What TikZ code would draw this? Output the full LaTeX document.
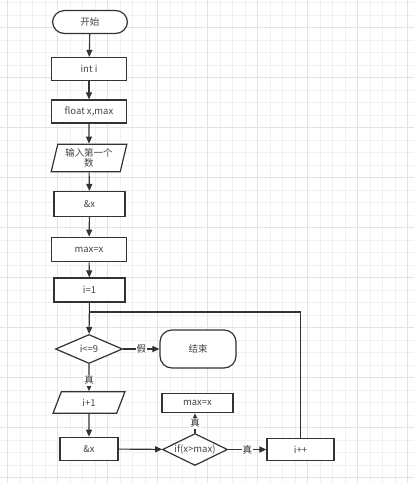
\documentclass[tikz,border=0pt]{standalone}
\usepackage{fontspec}
\setmainfont{Noto Sans CJK SC}
\usetikzlibrary{shapes.geometric,arrows.meta}
\definecolor{inkgray}{HTML}{333333}
\definecolor{txtgray}{HTML}{444444}
\definecolor{gridminor}{HTML}{F1F1F1}
\definecolor{gridmajor}{HTML}{E3E3E3}

\begin{document}
\begin{tikzpicture}[x=1pt,y=-1pt,
  every node/.style={font=\fontsize{9.5}{11}\selectfont,text=txtgray},
  box/.style={draw=inkgray,line width=1.2pt,fill=white,inner sep=0pt,minimum width=75pt,minimum height=23pt},
  term/.style={box,rounded corners=12pt},
  io/.style={box,trapezium,trapezium left angle=75,trapezium right angle=105,trapezium stretches=true,align=center},
  cond/.style={box,diamond,aspect=2,minimum width=67pt,minimum height=29pt},
  lab/.style={fill=white,inner sep=1pt,text=inkgray},
  arr/.style={draw=inkgray,line width=1.1pt,-{Triangle[length=7pt,width=6pt]}},
  wire/.style={draw=inkgray,line width=1.1pt}]
\fill[white] (0,0) rectangle (414,483);
\useasboundingbox (0,0) rectangle (414,483);
\begin{scope}
\clip (0,0) rectangle (414,483);
\foreach \x in {7.5,20,...,412} \draw[gridminor,line width=1pt] (\x,0) -- (\x,483);
\foreach \y in {2.5,15,...,482} \draw[gridminor,line width=1pt] (0,\y) -- (414,\y);
\foreach \x in {7.5,57.5,...,412} \draw[gridmajor,line width=1pt] (\x,0) -- (\x,483);
\foreach \y in {27.5,77.5,...,482} \draw[gridmajor,line width=1pt] (0,\y) -- (414,\y);
\end{scope}

\node[term] (start) at (90,22) {开始};
\node[box] (inti) at (89,69) {int i};
\node[box] (flt) at (89,111.5) {float x,max};
\node[io,minimum width=76pt,minimum height=27.5pt] (inp) at (89,158) {输入第一个\\[-1pt]数};
\node[box,minimum width=71pt,minimum height=25pt] (adr) at (89.5,204) {\&x};
\node[box,minimum height=24.5pt] (mx) at (89,249.5) {max=x};
\node[box,minimum width=71pt,minimum height=24pt] (ione) at (89.5,290) {i=1};
\node[cond] (c1) at (89,349) {i<=9};
\node[term,minimum width=76pt,minimum height=38pt] (stop) at (198,349) {结束};
\node[io,minimum width=72pt,minimum height=21.5pt] (iadd) at (89,402.5) {i+1};
\node[box,minimum width=58pt,minimum height=23.5pt] (adr2) at (89,449) {\&x};
\node[cond,minimum width=65pt,minimum height=32pt] (c2) at (195,449.5) {if(x>max)};
\node[box,minimum width=71pt,minimum height=19.5pt] (mx2) at (197.5,403) {max=x};
\node[box,minimum width=67pt,minimum height=22.5pt] (inc) at (300.5,449.5) {i++};
\coordinate (back) at (89,312);

\draw[arr] (start) -- (inti);
\draw[arr] (inti) -- (flt);
\draw[arr] (flt) -- (inp);
\draw[arr] (inp) -- (adr);
\draw[arr] (adr) -- (mx);
\draw[arr] (mx) -- (ione);
\draw[arr] (ione) -- (c1);
\draw[arr] (c1) -- node[lab] {假} (stop);
\draw[arr] (c1) -- node[lab,pos=0.6] {真} (iadd);
\draw[arr] (iadd) -- (adr2);
\draw[arr] (adr2) -- (c2);
\draw[arr] (c2) -- node[lab] {真} (inc);
\draw[arr] (c2) -- node[lab] {真} (c2 |- mx2.south);
\draw[wire] (inc) |- (back);
\end{tikzpicture}
\end{document}
